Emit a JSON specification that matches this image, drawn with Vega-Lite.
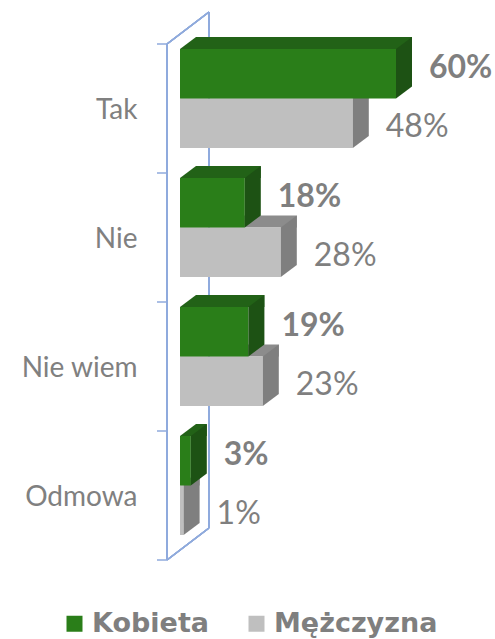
{
  "$schema": "https://vega.github.io/schema/vega-lite/v6.json",
  "width": 315,
  "height": 516,
  "autosize": {"type": "none"},
  "padding": {"left": 180, "top": 34, "right": 0, "bottom": 89},
  "background": "white",
  "config": {
    "view": {"stroke": null},
    "axisY": {"domain": false, "ticks": false, "grid": false, "labelPadding": 43, "labelOffset": 12, "labelFont": "Lato", "labelFontSize": 28, "labelColor": "#808080"},
    "legend": {"padding": 0}
  },
  "resolve": {"scale": {"y": "independent"}},
  "layer": [
    {
      "data": {"values": [{"b": 0}, {"b": 1}, {"b": 2}, {"b": 3}, {"b": 4}]},
      "layer": [
        {
          "mark": {"type": "rule", "color": "#8faadc", "strokeWidth": 1.5, "xOffset": -13, "x2Offset": -13, "yOffset": 10, "y2Offset": 10},
          "encoding": {
            "x": {"datum": 0, "type": "quantitative", "scale": {"domain": [0, 0.875], "nice": false, "zero": false}, "axis": null},
            "x2": {"datum": 0},
            "y": {"datum": 0, "type": "quantitative", "scale": {"domain": [0, 4], "reverse": true, "nice": false, "zero": false}, "axis": null},
            "y2": {"datum": 4}
          }
        },
        {
          "mark": {"type": "rule", "color": "#8faadc", "strokeWidth": 1.5, "xOffset": 29, "x2Offset": 29, "yOffset": -22, "y2Offset": -22},
          "encoding": {
            "x": {"datum": 0, "type": "quantitative", "axis": null},
            "x2": {"datum": 0},
            "y": {"datum": 0, "type": "quantitative", "axis": null},
            "y2": {"datum": 4}
          }
        },
        {
          "mark": {"type": "rule", "color": "#8faadc", "strokeWidth": 1.5, "xOffset": -13, "x2Offset": 29, "yOffset": 10, "y2Offset": -22},
          "encoding": {
            "x": {"datum": 0, "type": "quantitative", "axis": null},
            "x2": {"datum": 0},
            "y": {"datum": 0, "type": "quantitative", "axis": null},
            "y2": {"datum": 0}
          }
        },
        {
          "mark": {"type": "rule", "color": "#8faadc", "strokeWidth": 1.5, "xOffset": -13, "x2Offset": 29, "yOffset": 10, "y2Offset": -22},
          "encoding": {
            "x": {"datum": 0, "type": "quantitative", "axis": null},
            "x2": {"datum": 0},
            "y": {"datum": 4, "type": "quantitative", "axis": null},
            "y2": {"datum": 4}
          }
        },
        {
          "mark": {"type": "rule", "color": "#8faadc", "strokeWidth": 1.5, "xOffset": -23, "x2Offset": -13, "yOffset": 10, "y2Offset": 10},
          "encoding": {
            "x": {"datum": 0, "type": "quantitative", "axis": null},
            "x2": {"datum": 0},
            "y": {"field": "b", "type": "quantitative", "axis": null},
            "y2": {"field": "b"}
          }
        }
      ]
    },
    {
      "data": {"values": [
        {"c": "Tak", "s": "Kobieta", "v": 0.60},
        {"c": "Tak", "s": "Mężczyzna", "v": 0.48},
        {"c": "Nie", "s": "Kobieta", "v": 0.18},
        {"c": "Nie", "s": "Mężczyzna", "v": 0.28},
        {"c": "Nie wiem", "s": "Kobieta", "v": 0.19},
        {"c": "Nie wiem", "s": "Mężczyzna", "v": 0.23},
        {"c": "Odmowa", "s": "Kobieta", "v": 0.03},
        {"c": "Odmowa", "s": "Mężczyzna", "v": 0.01}
      ]},
      "encoding": {
        "y": {"field": "c", "type": "nominal", "title": null, "sort": ["Tak", "Nie", "Nie wiem", "Odmowa"], "scale": {"domain": ["Tak", "Nie", "Nie wiem", "Odmowa"], "paddingInner": 0.2326, "paddingOuter": 0.1163}},
        "x": {"field": "v", "type": "quantitative", "axis": null, "scale": {"domain": [0, 0.875], "nice": false, "zero": false}}
      },
      "layer": [
        {
          "transform": [{"filter": "datum.s === 'Mężczyzna'"}],
          "layer": [
            {"mark": {"type": "bar", "height": 12, "yOffset": -6, "xOffset": 16, "x2Offset": 16, "color": "#8c8c8c"}},
            {"mark": {"type": "point", "shape": "M0,-24.75L16,-36.75L16,-24.75Z", "size": 4, "filled": true, "color": "#8c8c8c", "opacity": 1, "strokeWidth": 0, "yOffset": 24.75},
             "encoding": {"x": {"datum": 0, "type": "quantitative"}}},
            {"mark": {"type": "bar", "height": 49.5, "yOffset": 24.75},
             "encoding": {"color": {"field": "s", "type": "nominal", "scale": {"domain": ["Kobieta", "Mężczyzna"], "range": ["#2a7e19", "#bfbfbf"]},
               "legend": {"title": null, "orient": "none", "legendX": -119, "legendY": 576, "direction": "horizontal", "symbolType": "square", "symbolSize": 256, "symbolStrokeWidth": 0, "labelFont": "DejaVu Sans", "labelFontWeight": "bold", "labelFontSize": 27, "labelLimit": 400, "labelColor": "#7f7f7f", "labelOffset": 4, "columnPadding": 33}}}},
            {"mark": {"type": "point", "shape": "M0,-24.75L16,-36.75L16,12.75L0,24.75Z", "size": 4, "filled": true, "color": "#7f7f7f", "opacity": 1, "strokeWidth": 0, "yOffset": 24.75}},
            {"mark": {"type": "text", "align": "left", "baseline": "middle", "dx": 33, "yOffset": 28.75, "font": "Lato", "fontSize": 32, "color": "#7f7f7f"},
             "encoding": {"text": {"field": "v", "type": "quantitative", "format": ".0%"}}}
          ]
        },
        {
          "transform": [{"filter": "datum.s === 'Kobieta'"}],
          "layer": [
            {"mark": {"type": "bar", "height": 12, "yOffset": -55.5, "xOffset": 16, "x2Offset": 16, "color": "#226217"}},
            {"mark": {"type": "point", "shape": "M0,-24.75L16,-36.75L16,-24.75Z", "size": 4, "filled": true, "color": "#226217", "opacity": 1, "strokeWidth": 0, "yOffset": -24.75},
             "encoding": {"x": {"datum": 0, "type": "quantitative"}}},
            {"mark": {"type": "bar", "height": 49.5, "yOffset": -24.75},
             "encoding": {"color": {"field": "s", "type": "nominal", "scale": {"domain": ["Kobieta", "Mężczyzna"], "range": ["#2a7e19", "#bfbfbf"]},
               "legend": {"title": null, "orient": "none", "legendX": -119, "legendY": 576, "direction": "horizontal", "symbolType": "square", "symbolSize": 256, "symbolStrokeWidth": 0, "labelFont": "DejaVu Sans", "labelFontWeight": "bold", "labelFontSize": 27, "labelLimit": 400, "labelColor": "#7f7f7f", "labelOffset": 4, "columnPadding": 33}}}},
            {"mark": {"type": "point", "shape": "M0,-24.75L16,-36.75L16,12.75L0,24.75Z", "size": 4, "filled": true, "color": "#1d5214", "opacity": 1, "strokeWidth": 0, "yOffset": -24.75}},
            {"mark": {"type": "text", "align": "left", "baseline": "middle", "dx": 33, "yOffset": -30.75, "font": "Lato", "fontSize": 32, "fontWeight": "bold", "color": "#7f7f7f"},
             "encoding": {"text": {"field": "v", "type": "quantitative", "format": ".0%"}}}
          ]
        }
      ]
    }
  ]
}
